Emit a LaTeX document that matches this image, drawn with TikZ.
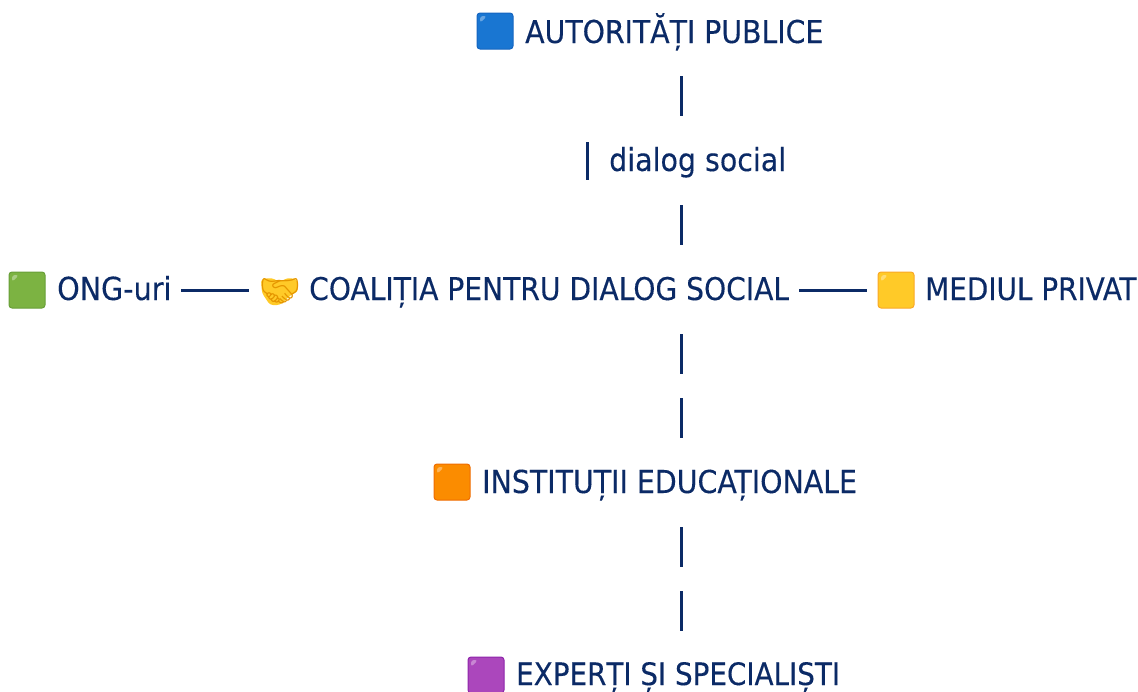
\documentclass[tikz,border=0pt]{standalone}
\usepackage{fontspec}
\setmainfont[FakeBold=0.25]{DejaVu Sans Condensed}
\newfontfamily\emojifont{Noto Emoji}
\definecolor{ink}{HTML}{0B2A66}
\definecolor{sqblue}{HTML}{1976D2}
\definecolor{sqblued}{HTML}{1565C0}
\definecolor{sqgreen}{HTML}{7CB342}
\definecolor{sqgreend}{HTML}{689F38}
\definecolor{sqyellow}{HTML}{FFCA28}
\definecolor{sqyellowd}{HTML}{F9A825}
\definecolor{sqorange}{HTML}{FB8C00}
\definecolor{sqoranged}{HTML}{EF6C00}
\definecolor{sqpurple}{HTML}{AB47BC}
\definecolor{sqpurpled}{HTML}{8E24AA}
\definecolor{shake}{HTML}{FFCA28}
\definecolor{shakeline}{HTML}{E59600}
\tikzset{
 x=1pt,y=-1pt,
 lab/.style={anchor=base west,inner sep=0pt,text=ink,font=\fontsize{#1}{36}\selectfont},
 lab/.default=31.3,
 sq/.style 2 args={rounded corners=3pt,minimum size=36pt,inner sep=0pt,draw=#2,line width=1pt,fill=#1,
   path picture={
     \fill[white,opacity=.35] ([xshift=3pt,yshift=-3pt]path picture bounding box.north west) -- ++(7,0) -- ++(-7,7) -- cycle;
   }},
 conn/.style={draw=ink,line width=3pt}
}
\begin{document}
\begin{tikzpicture}
\useasboundingbox (0,0) rectangle (1138,691);
\node[sq={sqblue}{sqblued}] (s1) at (495,31) {};
\node[lab=31.5] (auth) at (525,43) {AUTORITĂȚI PUBLICE};
\node[lab=31.65] (dial) at (609,171) {dialog social};
\node[sq={sqgreen}{sqgreend}] (s2) at (27,290) {};
\node[lab=31.8] (ong) at (57,300) {ONG-uri};
\fill[shake,rounded corners=3pt] (261,279) -- (272,278) -- (280,282) -- (287,278) -- (297,279) -- (298,292) -- (292,294) -- (280,305) -- (270,305) -- (262,293) -- cycle;
\node[lab,text=shakeline,font=\emojifont\fontsize{33}{36}\selectfont] (hs) at (259,302) {🤝};
\node[lab] (coal) at (309,300) {COALIȚIA PENTRU DIALOG SOCIAL};
\node[sq={sqyellow}{sqyellowd}] (s3) at (896,290) {};
\node[lab=31.0] (priv) at (925,300) {MEDIUL PRIVAT};
\node[sq={sqorange}{sqoranged}] (s4) at (452,482) {};
\node[lab=31.6] (inst) at (482,493) {INSTITUȚII EDUCAȚIONALE};
\node[sq={sqpurple}{sqpurpled}] (s5) at (486,675) {};
\node[lab=30.9] (exp) at (516,685) {EXPERȚI ȘI SPECIALIȘTI};
\coordinate (a1) at (681,76); \coordinate (a2) at (681,116);
\coordinate (b1) at (587,142); \coordinate (b2) at (587,180);
\coordinate (c1) at (681,205); \coordinate (c2) at (681,245);
\coordinate (d1) at (681,334); \coordinate (d2) at (681,374);
\coordinate (e1) at (681,398); \coordinate (e2) at (681,438);
\coordinate (f1) at (681,527); \coordinate (f2) at (681,567);
\coordinate (g1) at (681,591); \coordinate (g2) at (681,631);
\coordinate (h1) at (181,290); \coordinate (h2) at (249,290);
\coordinate (i1) at (799,290); \coordinate (i2) at (867,290);
\foreach \p/\q in {a1/a2,b1/b2,c1/c2,d1/d2,e1/e2,f1/f2,g1/g2,h1/h2,i1/i2}
  \draw[conn] (\p) -- (\q);
\end{tikzpicture}
\end{document}
